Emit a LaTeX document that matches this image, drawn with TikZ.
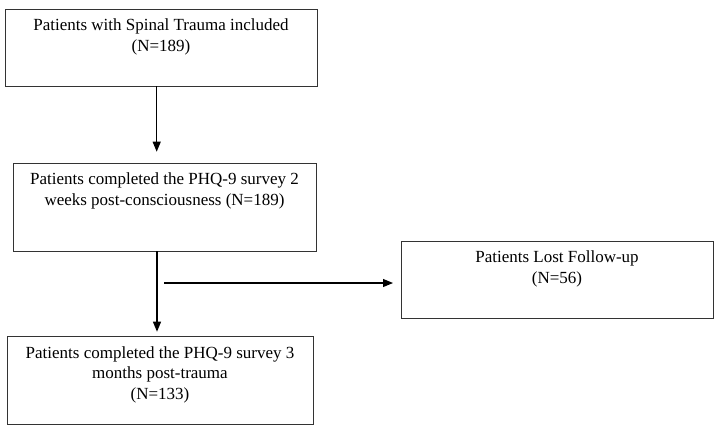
\documentclass[tikz,border=0pt]{standalone}
\usepackage{fontspec}
\setmainfont{Liberation Serif}
\usetikzlibrary{arrows.meta}
\begin{document}
\begin{tikzpicture}[x=1pt,y=-1pt,
  boxnode/.style={draw=black!80,line width=1pt,rectangle,inner sep=0pt},
  txt/.style={inner sep=0pt,align=center,font=\fontsize{17}{20.5}\selectfont,anchor=north},
  arr/.style={line width=1.1pt,-{Triangle[length=10pt,width=8pt]}}]
\useasboundingbox (0,0) rectangle (720,432);
% boxes
\node[boxnode,minimum width=312pt,minimum height=77pt] (b1) at (161,47.5) {};
\node[boxnode,minimum width=303pt,minimum height=88pt] (b2) at (164.5,207) {};
\node[boxnode,minimum width=306pt,minimum height=88pt] (b3) at (160,380) {};
\node[boxnode,minimum width=312pt,minimum height=77pt] (b4) at (557,279.5) {};
% texts
\node[txt] (t1) at (161,18.5) {Patients with Spinal Trauma included\\(N=189)};
\node[txt] (t2) at (164.5,172.5) {Patients completed the PHQ-9 survey 2\\weeks post-consciousness (N=189)};
\node[txt] (t3) at (160,346) {Patients completed the PHQ-9 survey 3\\months post-trauma\\(N=133)};
\node[txt] (t4) at (557,250.5) {Patients Lost Follow-up\\(N=56)};
% connectors
\coordinate (s1) at (156.7,86);
\coordinate (e1) at (156.7,151.7);
\coordinate (s2) at (157,251);
\coordinate (e2) at (157,331.7);
\coordinate (s3) at (164,283);
\coordinate (e3) at (393,283);
\draw[arr] (s1) -- (e1);
\draw[arr] (s2) -- (e2);
\draw[arr] (s3) -- (e3);
\end{tikzpicture}
\end{document}
